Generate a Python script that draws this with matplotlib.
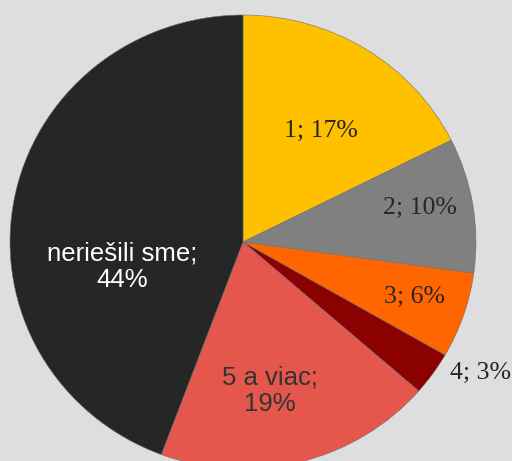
import matplotlib
matplotlib.use("Agg")
import matplotlib.pyplot as plt

categories = ["1", "2", "3", "4", "5 a viac", "neriešili sme"]
values = [17.6, 9.6, 6.1, 3.1, 19.3, 44.3]
label_texts = ["1; 17%", "2; 10%", "3; 6%", "4; 3%", "5 a viac;\n19%", "neriešili sme;\n44%"]
colors = ["#FFC000", "#808080", "#FF6600", "#8B0000", "#E5574C", "#262626"]

BG = "#DEDEDE"
W, H = 512, 461
cx, cy = 243, 242          # pie centre in pixels (from top-left)
rx, ry = 233, 227          # pie radii in pixels

fig = plt.figure(figsize=(W / 100, H / 100), dpi=100, facecolor=BG)
ax = fig.add_axes([0, 0, 1, 1])
ax.set_facecolor(BG)

wedges, _ = ax.pie(values, colors=colors, startangle=90, counterclock=False,
                   radius=1.0, center=(0, 0),
                   wedgeprops=dict(linewidth=0.4, edgecolor="#6f6f6f"))
ax.set_aspect("auto")
ax.set_xlim(-cx / rx, (W - cx) / rx)
ax.set_ylim(-(H - cy) / ry, cy / ry)
ax.axis("off")

# label positions (pixel coordinates, top-left origin) and styles
label_pos = [(321, 131), (420, 208), (415, 297), (480, 373), (270, 391), (122, 267)]
serif = dict(family="Liberation Serif", fontsize=18.5, color="#262626")
sans_dark = dict(family="Liberation Sans", fontsize=18.5, color="#333333")
sans_white = dict(family="Liberation Sans", fontsize=18.5, color="#FFFFFF")
styles = [serif, serif, serif, serif, sans_dark, sans_white]

for txt, (px, py), st in zip(label_texts, label_pos, styles):
    ax.text(px / W, 1 - py / H, txt, transform=fig.transFigure,
            ha="center", va="center", linespacing=1.15, **st)

fig.savefig("out.png", dpi=100, facecolor=BG)
